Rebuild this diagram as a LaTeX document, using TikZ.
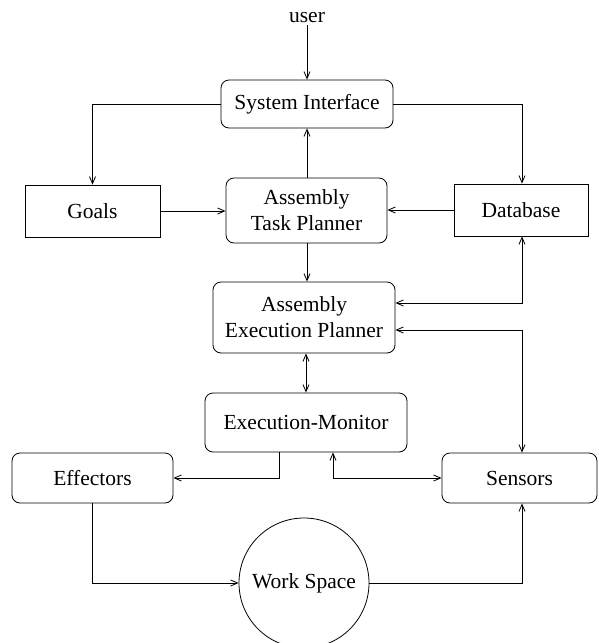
\documentclass[tikz,border=0pt]{standalone}
\usepackage{fontspec}
\setmainfont{Liberation Serif}
\usetikzlibrary{arrows.meta}
\begin{document}
\begin{tikzpicture}[x=1pt,y=-1pt,
  every node/.style={font=\fontsize{21.5}{26}\selectfont, align=center, inner sep=0pt},
  rbox/.style={draw, rounded corners=8pt, line width=0.8pt},
  sbox/.style={draw, line width=0.8pt},
  conn/.style={line width=0.8pt, -{Straight Barb[length=7pt,width=6pt]}},
  bconn/.style={line width=0.8pt, {Straight Barb[length=7pt,width=6pt]}-{Straight Barb[length=7pt,width=6pt]}}]
\useasboundingbox (0,0) rectangle (598,643);
\node[inner sep=2pt] (user) at (307,18) {user};
\node[rbox, minimum width=172pt, minimum height=48pt] (SI) at (307,104) {System Interface};
\node[sbox, minimum width=135pt, minimum height=52pt] (G) at (92.5,211) {Goals};
\node[rbox, minimum width=161pt, minimum height=65pt] (ATP) at (306.5,210.5) {Assembly\\Task Planner};
\node[sbox, minimum width=134pt, minimum height=52pt] (DB) at (521,210) {Database};
\node[rbox, minimum width=182pt, minimum height=71pt] (AEP) at (304,317.5) {Assembly\\Execution Planner};
\node[rbox, minimum width=202pt, minimum height=59pt] (EM) at (306,422.5) {Execution-Monitor};
\node[rbox, minimum width=161pt, minimum height=50pt] (E) at (92.5,478) {Effectors};
\node[rbox, minimum width=155pt, minimum height=50pt] (S) at (519.5,478) {Sensors};
\node[draw, circle, line width=0.8pt, minimum size=130pt] (WS) at (304,583) {Work Space};
\coordinate (sn) at ([xshift=2.5pt]S.north);
\coordinate (ss) at ([xshift=2.5pt]S.south);
\draw[conn] (user) -- (user |- SI.north);
\draw[conn] (SI.west) -| (G.north);
\draw[conn] (SI.east) -| ([xshift=1pt]DB.north);
\draw[conn] (G.east) -- (G.east -| ATP.west);
\draw[conn] (DB.west) -- (DB.west -| ATP.east);
\draw[conn] (ATP.north -| user) -- (SI.south -| user);
\draw[conn] (ATP.south -| user) -- (AEP.north -| user);
\draw[bconn] ([xshift=1pt]DB.south) |- ([yshift=14.5pt]AEP.east);
\draw[bconn] (sn) |- ([yshift=-12.5pt]AEP.east);
\draw[bconn] ([xshift=2pt]AEP.south) -- ([xshift=2pt]AEP.south |- EM.north);
\draw[conn] ([xshift=-27pt]EM.south) |- (E.east);
\draw[bconn] ([xshift=27pt]EM.south) |- (S.west);
\draw[conn] (E.south) |- (WS.west);
\draw[conn] (WS.east) -| (ss);
\end{tikzpicture}
\end{document}
